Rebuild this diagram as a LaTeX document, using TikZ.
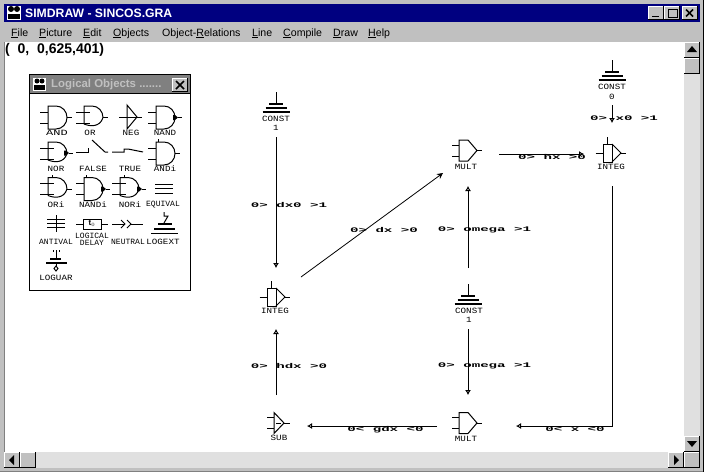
\documentclass[tikz,border=0pt]{standalone}
\usepackage{xcolor}
\usepackage{fontspec}
\setmainfont{Liberation Sans}
\setmonofont{Liberation Mono}
\usetikzlibrary{arrows.meta}
\definecolor{winback}{HTML}{C0C0C0}
\definecolor{winnavy}{HTML}{000080}
\definecolor{winscroll}{HTML}{E0E0E0}
\definecolor{wingray}{HTML}{808080}
\tikzset{
    wire/.style={black, line width=1pt},
    bar/.style={black, line width=1.7pt},
    flow/.style={black, line width=1pt, -{Latex[open,length=5pt,width=6pt]}},
    flowfull/.style={black, line width=.8pt, -{Stealth[length=6pt,width=6pt]}},
    flowlabel/.style={font=\ttfamily\bfseries\fontsize{7}{7}\selectfont, xscale=2.02, transform shape, inner sep=0pt, text=black},
    symlabel/.style={font=\ttfamily\fontsize{8}{8}\selectfont, xscale=1.15, transform shape, inner sep=0pt, align=center},
    toollabel/.style={font=\ttfamily\fontsize{8}{7}\selectfont, xscale=1.15, transform shape, inner sep=0pt, align=center},
    menuitem/.style={font=\fontsize{10.6}{12}\selectfont, anchor=base west, inner sep=0pt},
    % window controls
    btnsym/.pic={
        \fill[winback] (0,0) rectangle (16,16);
        \draw[white, line width=1pt] (.5,16) -- (.5,.5) -- (16,.5);
        \draw[black, line width=1.2pt] (15.6,0) -- (15.6,15.6) -- (0,15.6);
    },
    % diagram objects
    constsym/.pic={
        \draw[wire] (0,0) -- (0,11);
        \draw[bar] (-7,12) -- (7,12);
        \draw[bar] (-10.5,16) -- (10.5,16);
        \draw[bar] (-13.5,20) -- (13.5,20);
    },
    integsym/.pic={
        \draw[wire] (-12,0) -- (-5,0);
        \draw[wire] (0,-16) -- (0,-9);
        \draw[wire] (-4.5,-9) rectangle (4.5,9);
        \draw[wire] (4.5,-9) -- (13.5,0) -- (4.5,9);
        \draw[wire] (13.5,0) -- (18.5,0);
    },
    multsym/.pic={
        \draw[wire] (-7,-5.5) -- (0,-5.5);
        \draw[wire] (-7,5.5) -- (0,5.5);
        \draw[wire] (0,-10.5) -- (9,-10.5) -- (18,0) -- (9,10.5) -- (0,10.5) -- cycle;
        \draw[wire] (18,0) -- (23,0);
    },
    subsym/.pic={
        \draw[wire] (-7,-5.5) -- (0,-5.5);
        \draw[wire] (-7,5.5) -- (0,5.5);
        \draw[wire] (0,-10.5) -- (10,0) -- (0,10.5) -- cycle;
        \draw[wire] (2,0) -- (7,0);
        \draw[wire] (10,0) -- (16,0);
    },
    % logical objects
    andsym/.pic={
        \draw[wire] (-8,-5.5) -- (0,-5.5);
        \draw[wire] (-8,5.5) -- (0,5.5);
        \draw[wire] (0,-11.5) -- (8,-11.5) .. controls (14.5,-11.5) and (19,-6) .. (19,0) .. controls (19,6) and (14.5,11.5) .. (8,11.5) -- (0,11.5) -- cycle;
    },
    orsym/.pic={
        \draw[wire] (-8,-5.5) -- (6,-5.5);
        \draw[wire] (-8,5.5) -- (6,5.5);
        \draw[wire] (0,6.5) -- (0,-11.5) -- (8,-11.5) .. controls (14.5,-11.5) and (19,-6) .. (19,0);
        \draw[wire] (19,0) .. controls (16,10) and (6,9) .. (0,6.5);
    },
    outsym/.pic={\draw[wire] (0,0) -- (5,0);},
    dotsym/.pic={
        \fill[black] (-2,-2.5) -- (0,-2.5) -- (3,0) -- (0,2.5) -- (-2,2.5) -- cycle;
        \draw[wire] (3,0) -- (7,0);
    },
}
\begin{document}
\begin{tikzpicture}[x=1pt, y=-1pt]
    \useasboundingbox (0,0) rectangle (704,472);
    \fill[winback] (0,0) rectangle (704,472);
    \draw[wingray, line width=1pt] (0,471.5) -- (704,471.5);
    \draw[black, line width=1.2pt] (703.4,0) -- (703.4,472);

    % title bar
    \fill[winnavy] (4,4) rectangle (700,22);
    \fill[white] (7,6) rectangle (21,20);
    \fill[black] (11,9) circle[radius=3];
    \fill[black] (17,9) circle[radius=3];
    \fill[black] (8,14) rectangle (20,19);
    \node[font=\bfseries\fontsize{12.2}{12}\selectfont, text=white, anchor=west, inner sep=0pt] (titletext) at (25,13) {SIMDRAW - SINCOS.GRA};
    \pic at (648,6) [yscale=.875] {btnsym};
    \pic at (664,6) [yscale=.875] {btnsym};
    \pic at (682,6) [yscale=.875] {btnsym};
    \draw[black, line width=1.6pt] (652,16.5) -- (659,16.5);
    \draw[black, line width=1pt] (668,9) rectangle (677,17);
    \draw[black, line width=1.2pt] (668,9.5) -- (677,9.5);
    \draw[black, line width=1.6pt] (686,9.5) -- (693,16.5);
    \draw[black, line width=1.6pt] (693,9.5) -- (686,16.5);

    % menu bar
    \node[menuitem] (menufile) at (11,36) {\underline{F}ile};
    \node[menuitem] (menupicture) at (39,36) {\underline{P}icture};
    \node[menuitem] (menuedit) at (83,36) {\underline{E}dit};
    \node[menuitem] (menuobjects) at (113,36) {\underline{O}bjects};
    \node[menuitem] (menurelations) at (162,36) {Object-\underline{R}elations};
    \node[menuitem] (menuline) at (252,36) {\underline{L}ine};
    \node[menuitem] (menucompile) at (283,36) {\underline{C}ompile};
    \node[menuitem] (menudraw) at (333,36) {\underline{D}raw};
    \node[menuitem] (menuhelp) at (368,36) {\underline{H}elp};

    % client area and scroll bars
    \fill[white] (4,42) rectangle (684,452);
    \draw[wingray, line width=.8pt] (4.4,42) -- (4.4,452);
    \fill[winscroll] (684,74) rectangle (700,436);
    \fill[winscroll] (36,452) rectangle (668,468);
    \pic at (684,42) {btnsym};
    \pic at (684,58) {btnsym};
    \pic at (684,436) {btnsym};
    \pic at (668,452) {btnsym};
    \pic at (684,452) {btnsym};
    \pic at (4,452) {btnsym};
    \pic at (20,452) {btnsym};
    \fill[black] (692,46) -- (697,52) -- (687,52) -- cycle;
    \fill[black] (692,447) -- (697,441) -- (687,441) -- cycle;
    \fill[black] (679,460) -- (674,455) -- (674,465) -- cycle;
    \fill[black] (9,460) -- (14,455) -- (14,465) -- cycle;
    \node[font=\bfseries\fontsize{14}{14}\selectfont, anchor=west, inner sep=0pt] (cursorpos) at (5,50) {(\ \ 0,\ \ 0,625,401)};

    % logical objects window
    \draw[black, fill=white, line width=1pt] (29.5,74.5) rectangle (190.5,290.5);
    \fill[wingray] (30,75) rectangle (190,93);
    \draw[black, line width=1pt] (30,93.5) -- (190,93.5);
    \fill[white] (33,78) rectangle (46,91);
    \fill[black] (37,81) circle[radius=2.5];
    \fill[black] (42,81) circle[radius=2.5];
    \fill[black] (34,85) rectangle (45,90);
    \node[font=\bfseries\fontsize{11.4}{12}\selectfont, text=winback, anchor=west, inner sep=0pt] (palettetitle) at (51,84.5) {Logical Objects .......};
    \pic at (172,78) [yscale=.875] {btnsym};
    \draw[black, line width=1.6pt] (176,81) -- (184,89);
    \draw[black, line width=1.6pt] (184,81) -- (176,89);

    % logical objects, first row
    \pic at (48,117.5) {andsym};
    \pic at (67,117.5) {outsym};
    \node[toollabel, xscale=1.3] (tooland) at (57,133) {AND};
    \pic at (84,117.5) {orsym};
    \pic at (103,117.5) {outsym};
    \node[toollabel] (toolor) at (90,133) {OR};
    \draw[wire] (119,117) -- (142,117);
    \draw[wire] (127,105) -- (137,117) -- (127,129) -- cycle;
    \node[toollabel] (toolneg) at (131,133) {NEG};
    \pic at (156,117.5) {andsym};
    \pic at (175,117.5) {dotsym};
    \node[toollabel] (toolnand) at (165,133) {NAND};

    % second row
    \pic at (48,153.5) {orsym};
    \pic at (66,153) {dotsym};
    \node[toollabel] (toolnor) at (56,169) {NOR};
    \draw[wire] (76,152) -- (88,152) -- (88,148);
    \draw[wire] (92,140) -- (105,152) -- (108,152);
    \node[toollabel] (toolfalse) at (93,169) {FALSE};
    \draw[wire] (112,152) -- (124,152) -- (124,149) -- (128,149) -- (143,152);
    \node[toollabel] (tooltrue) at (130,169) {TRUE};
    \pic at (156,153.5) {andsym};
    \pic at (175,153.5) {outsym};
    \draw[wire] (158,139) -- (158,142);
    \node[toollabel] (toolandi) at (165,169) {ANDi};

    % third row
    \pic at (48,189) {orsym};
    \pic at (67,189) {outsym};
    \draw[wire] (52,175) -- (52,178);
    \node[toollabel] (toolori) at (56,205) {ORi};
    \pic at (84,189) {andsym};
    \pic at (103,189) {dotsym};
    \draw[wire] (86,175) -- (86,178);
    \node[toollabel] (toolnandi) at (93,205) {NANDi};
    \pic at (120,189) {orsym};
    \pic at (139,189) {dotsym};
    \draw[wire] (124,175) -- (124,178);
    \node[toollabel] (toolnori) at (130,205) {NORi};
    \draw[wire] (155,184) -- (173,184);
    \draw[wire] (155,188.5) -- (173,188.5);
    \draw[wire] (155,193) -- (173,193);
    \node[toollabel, xscale=.87] (toolequival) at (163,205) {EQUIVAL};

    % fourth row
    \draw[wire] (47,219.5) -- (65,219.5);
    \draw[wire] (47,223.5) -- (65,223.5);
    \draw[wire] (47,227.5) -- (65,227.5);
    \draw[wire] (56,215) -- (56,232);
    \node[toollabel, xscale=.87] (toolantival) at (56,242) {ANTIVAL};
    \draw[wire] (76,224) -- (83,224);
    \draw[wire] (83.5,219) rectangle (101,229);
    \draw[wire] (101,224) -- (108,224);
    \node[font=\bfseries\fontsize{8}{8}\selectfont, inner sep=0pt] (tooldelayt) at (92,223.5) {t$_{\scriptscriptstyle 0}$};
    \node[toollabel, xscale=.87] (tooldelay) at (92,239) {LOGICAL\\DELAY};
    \draw[wire] (112,224) -- (124,224);
    \draw[wire] (121,220) -- (125,224) -- (121,228);
    \draw[wire] (127,220) -- (131,224) -- (127,228) ;
    \draw[wire] (131,224) -- (143,224);
    \node[toollabel, xscale=.87] (toolneutral) at (128,242) {NEUTRAL};
    \draw[wire] (164,212) -- (164,216) -- (168,216) -- (164,223);
    \draw[bar] (158,224) -- (172,224);
    \draw[bar] (154,229) -- (175,229);
    \draw[bar] (151,233.5) -- (178,233.5);
    \node[toollabel] (toollogext) at (163,242) {LOGEXT};

    % fifth row
    \draw[wire] (56,250) -- (56,258);
    \draw[wire] (53,250) -- (53,252);
    \draw[wire] (59,250) -- (59,252);
    \draw[bar] (50,259) -- (61,259);
    \draw[bar] (46,263) -- (67,263);
    \draw[wire] (56,264) -- (56,267);
    \draw[wire] (56,266) -- (58,268.5) -- (56,271) -- (54,268.5) -- cycle;
    \node[toollabel] (toolloguar) at (56,278) {LOGUAR};

    % diagram objects
    \pic (constleft) at (276,92) {constsym};
    \node[symlabel] (constlefttext) at (276,123.5) {CONST\\[1.5pt]1};
    \pic (constright) at (612,60) {constsym};
    \node[symlabel] (constrighttext) at (612,92) {CONST\\[1.5pt]0};
    \pic (constmid) at (468,284) {constsym};
    \node[symlabel] (constmidtext) at (469,315.5) {CONST\\[1.5pt]1};
    \pic (integleft) at (271.5,297) {integsym};
    \node[symlabel] (integlefttext) at (275,311) {INTEG};
    \pic (integright) at (607.5,153) {integsym};
    \node[symlabel] (integrighttext) at (611,167) {INTEG};
    \pic (multtop) at (459,150.5) {multsym};
    \node[symlabel] (multtoptext) at (466,167) {MULT};
    \pic (multbottom) at (459,423) {multsym};
    \node[symlabel] (multbottomtext) at (466,439) {MULT};
    \pic (subbox) at (274,423) {subsym};
    \node[symlabel] (subtext) at (279,438) {SUB};

    % connector ends
    \coordinate (constleftout) at (276,137);
    \coordinate (integleftin) at (276,268);
    \coordinate (integleftout) at (301,277);
    \coordinate (multtopin) at (443,173);
    \coordinate (constrightout) at (612,105);
    \coordinate (integrightin) at (612,123);
    \coordinate (multtopout) at (499,154);
    \coordinate (integrightleft) at (584,154);
    \coordinate (constmidup) at (468,268);
    \coordinate (multtopunder) at (468,186);
    \coordinate (constmiddown) at (468,329);
    \coordinate (multbottomin) at (468,395);
    \coordinate (integrightout) at (612,186);
    \coordinate (rightcorner) at (612,426);
    \coordinate (multbottomright) at (516,426);
    \coordinate (multbottomout) at (437,426);
    \coordinate (subright) at (307,426);
    \coordinate (subtop) at (276,395);
    \coordinate (integleftunder) at (276,329);

    % connectors
    \draw[flow] (constleftout) -- (integleftin);
    \draw[flowfull] (integleftout) -- (multtopin);
    \draw[flow] (constrightout) -- (integrightin);
    \draw[flow] (multtopout) -- (integrightleft);
    \draw[flow] (constmidup) -- (multtopunder);
    \draw[flow] (constmiddown) -- (multbottomin);
    \draw[flow] (integrightout) -- (rightcorner) -- (multbottomright);
    \draw[flow] (multbottomout) -- (subright);
    \draw[flow] (subtop) -- (integleftunder);

    % connector labels
    \node[flowlabel] (labeldxzero) at (289,205) {0> dx0 >1};
    \node[flowlabel] (labeldx) at (384,230) {0> dx >0};
    \node[flowlabel] (labelomegaup) at (484.5,230) {0> omega >1};
    \node[flowlabel] (labelxzero) at (624,118) {0> x0 >1};
    \node[flowlabel] (labelhx) at (552,157) {0> hx >0};
    \node[flowlabel] (labelhdx) at (289,366) {0> hdx >0};
    \node[flowlabel] (labelomegadown) at (484.5,366) {0> omega >1};
    \node[flowlabel] (labelgdx) at (385.5,430) {0< gdx <0};
    \node[flowlabel] (labelx) at (575,429) {0< x <0};
\end{tikzpicture}
\end{document}
